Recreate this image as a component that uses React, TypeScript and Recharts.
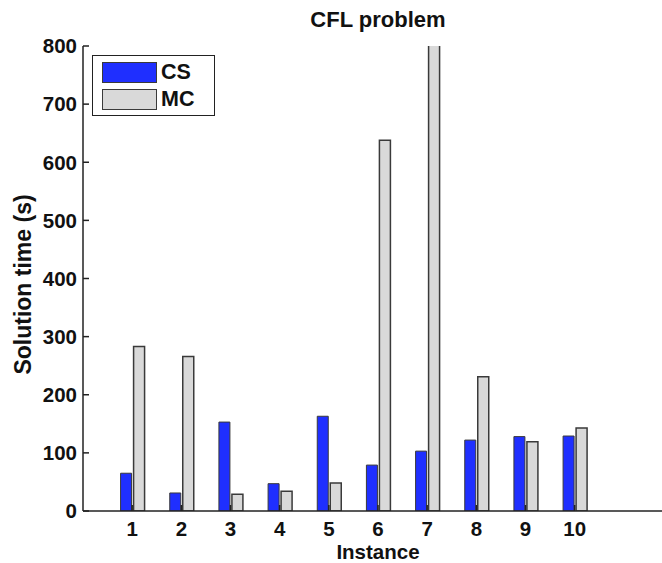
import { BarChart, Bar, XAxis, YAxis, Legend } from 'recharts';

const instances = [1, 2, 3, 4, 5, 6, 7, 8, 9, 10];
const csTimes = [65, 31, 153, 47, 163, 79, 103, 122, 128, 129];
const mcTimes = [283, 266, 29, 34, 48, 638, 870, 231, 119, 143];
const yTicks = [0, 100, 200, 300, 400, 500, 600, 700, 800];
const xDomain = [0, 12];

const FONT = '"Liberation Sans", Arial, Helvetica, sans-serif';
const COLORS = {
  cs: '#1f2fff',
  mc: '#d9d9d9',
  edge: '#3a3a3a',
  axis: '#222',
};

const data = instances.map((n, i) => ({ instance: n, CS: csTimes[i], MC: mcTimes[i] }));

const tickStyle = { fontSize: 20.5, fontWeight: 700, fill: '#111', fontFamily: FONT };

function LegendBox({ payload }: any) {
  return (
    <div
      style={{
        border: `1.5px solid ${COLORS.axis}`,
        background: '#fff',
        padding: '6px 20px 5px 9px',
        fontFamily: FONT,
        fontWeight: 700,
        fontSize: 21.5,
        color: '#111',
      }}
    >
      {(payload || []).map((p: any, i: number) => (
        <div key={p.value} style={{ display: 'flex', alignItems: 'center', marginTop: i ? 6 : 0 }}>
          <span
            style={{
              display: 'inline-block',
              width: 53,
              height: 19,
              background: p.color,
              border: `1.5px solid ${COLORS.edge}`,
              marginRight: 4,
            }}
          />
          <span style={{ lineHeight: '21px' }}>{p.value}</span>
        </div>
      ))}
    </div>
  );
}

function YLabel({ viewBox }: any) {
  const cy = viewBox.y + viewBox.height / 2 + 6;
  return (
    <text
      x={23}
      y={cy}
      transform={`rotate(-90, 23, ${cy})`}
      textAnchor="middle"
      dominantBaseline="central"
      style={{ fontSize: 23, fontWeight: 700, fill: '#111', fontFamily: FONT }}
    >
      Solution time (s)
    </text>
  );
}

export default function App() {
  return (
    <div
      style={{
        position: 'fixed',
        left: 0,
        top: 0,
        width: 662,
        height: 563,
        overflow: 'hidden',
        background: '#fff',
      }}
    >
      <div
        style={{
          position: 'absolute',
          left: 83,
          width: 590,
          top: 7,
          textAlign: 'center',
          fontFamily: FONT,
          fontWeight: 700,
          fontSize: 22,
          color: '#111',
        }}
      >
        CFL problem
      </div>
      {/* the original plot box runs past the right edge of the picture */}
      <BarChart
        width={760}
        height={563}
        data={data}
        margin={{ top: 46, right: 87, bottom: 2, left: 0 }}
        barSize={11}
        barGap={2}
      >
        <XAxis
          xAxisId="top"
          orientation="top"
          dataKey="instance"
          type="number"
          domain={xDomain}
          ticks={instances}
          height={0}
          tick={false}
          tickSize={-6}
          stroke={COLORS.axis}
          strokeWidth={1.5}
        />
        <XAxis
          dataKey="instance"
          type="number"
          domain={xDomain}
          ticks={instances}
          height={50}
          tickSize={-6}
          tickMargin={16}
          tick={tickStyle}
          stroke={COLORS.axis}
          strokeWidth={1.5}
          label={{
            value: 'Instance',
            position: 'insideBottom',
            offset: 2,
            style: { fontSize: 20.5, fontWeight: 700, fill: '#111', fontFamily: FONT },
          }}
        />
        <YAxis
          type="number"
          domain={[0, 800]}
          ticks={yTicks}
          allowDataOverflow
          width={83}
          tickSize={-6}
          tickMargin={12}
          tick={tickStyle}
          stroke={COLORS.axis}
          strokeWidth={1.5}
          label={<YLabel />}
        />
        <Legend
          layout="vertical"
          align="center"
          verticalAlign="middle"
          content={<LegendBox />}
          wrapperStyle={{ left: 92, top: 55, width: 'auto', height: 'auto' }}
        />
        <Bar dataKey="CS" name="CS" fill={COLORS.cs} stroke={COLORS.edge} strokeWidth={1} isAnimationActive={false} />
        <Bar dataKey="MC" name="MC" fill={COLORS.mc} stroke={COLORS.edge} strokeWidth={1.5} isAnimationActive={false} />
      </BarChart>
    </div>
  );
}
